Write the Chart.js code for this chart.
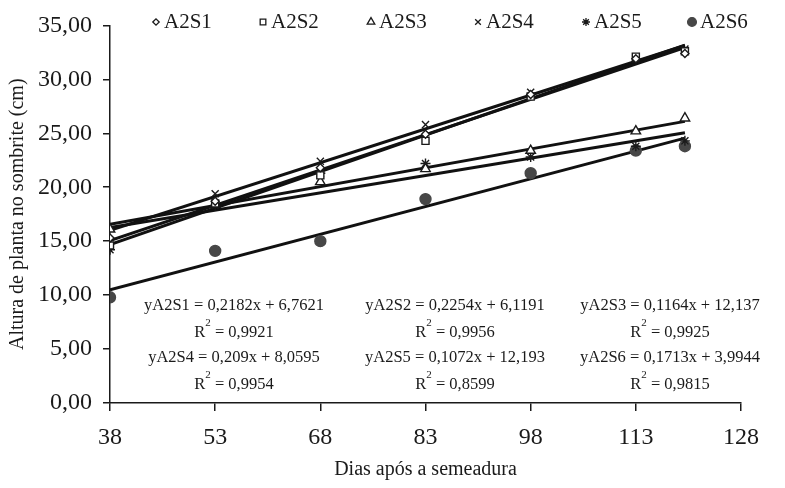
<!DOCTYPE html>
<html>
<head>
<meta charset="utf-8">
<script src="https://cdn.jsdelivr.net/npm/chart.js@4.4.1/dist/chart.umd.min.js"></script>
<style>
  body { margin: 0; background: #fff; }
  #wrap { width: 785px; height: 488px; }
</style>
</head>
<body>
<div id="wrap"><canvas id="alturaChart"></canvas></div>
<script>
// dias apos a semeadura
var dias = [38, 53, 68, 83, 98, 113, 120];
var xTicks = [38, 53, 68, 83, 98, 113, 128];
var yTicks = [0, 5, 10, 15, 20, 25, 30, 35];

// altura de planta (cm)
var a2s1 = [15.3, 18.7, 21.8, 24.9, 28.6, 31.9, 32.4];
var a2s2 = [14.6, 18.5, 21.1, 24.3, 28.4, 32.1, 32.6];
var a2s3 = [16.1, 18.4, 20.5, 21.7, 23.4, 25.2, 26.4];
var a2s4 = [15.0, 19.4, 22.4, 25.8, 28.8, 31.9, 32.8];
var a2s5 = [14.2, 18.3, 21.3, 22.2, 22.8, 23.8, 24.3];
var a2s6 = [9.8, 14.1, 15.0, 18.9, 21.3, 23.4, 23.8];

var nomes = ['A2S1', 'A2S2', 'A2S3', 'A2S4', 'A2S5', 'A2S6'];
var series = [a2s1, a2s2, a2s3, a2s4, a2s5, a2s6];

// linhas de tendencia (equacoes do grafico)
var slopes = [0.2182, 0.2254, 0.1164, 0.209, 0.1072, 0.1713];
var intercepts = [6.7621, 6.1191, 12.137, 8.0595, 12.193, 3.9944];
var eqTexts = ['0,2182x + 6,7621', '0,2254x + 6,1191', '0,1164x + 12,137',
               '0,209x + 8,0595', '0,1072x + 12,193', '0,1713x + 3,9944'];
var r2Texts = ['0,9921', '0,9956', '0,9925', '0,9954', '0,8599', '0,9815'];

var serif = "'Liberation Serif', 'Times New Roman', serif";
var ink = '#1a1a1a';

var estilos = [
    { pointStyle: 'rectRot', radius: 4, bg: '#fff', border: ink },
    { pointStyle: 'rect', radius: 5, bg: '#fff', border: ink },
    { pointStyle: 'triangle', radius: 5.5, bg: '#fff', border: ink },
    { pointStyle: 'crossRot', radius: 5, bg: ink, border: ink },
    { pointStyle: 'star', radius: 5, bg: ink, border: ink },
    { pointStyle: 'circle', radius: 5.5, bg: '#474747', border: '#474747' }
];

var datasets = [];
series.forEach(function (vals, i) {
    datasets.push({
        label: nomes[i],
        data: dias.map(function (d, j) { return { x: d, y: vals[j] }; }),
        showLine: false,
        pointStyle: estilos[i].pointStyle,
        pointRadius: estilos[i].radius,
        pointBackgroundColor: estilos[i].bg,
        pointBorderColor: estilos[i].border,
        pointBorderWidth: 1.4,
        order: 0
    });
});
slopes.forEach(function (a, i) {
    var x0 = dias[0], x1 = dias[dias.length - 1];
    datasets.push({
        type: 'line',
        label: 'tendencia ' + nomes[i],
        data: [{ x: x0, y: a * x0 + intercepts[i] }, { x: x1, y: a * x1 + intercepts[i] }],
        borderColor: '#111',
        borderWidth: 3,
        pointRadius: 0,
        fill: false,
        order: 1
    });
});

// legenda e equacoes desenhadas por cima
var textosPlugin = {
    id: 'textos',
    afterDraw: function (chart) {
        var ctx = chart.ctx;
        ctx.save();
        // legenda
        var lx = [156, 263, 371, 478, 586, 692];
        var drawPoint = Chart.helpers && Chart.helpers.drawPoint;
        ctx.font = '21px ' + serif;
        ctx.textBaseline = 'middle';
        ctx.textAlign = 'left';
        nomes.forEach(function (n, i) {
            var e = estilos[i];
            ctx.fillStyle = e.bg;
            ctx.strokeStyle = e.border;
            ctx.lineWidth = 1.3;
            if (drawPoint) {
                drawPoint(ctx, { pointStyle: e.pointStyle, radius: e.radius * 0.8, rotation: 0, borderWidth: 1.3 }, lx[i], 22);
            }
            ctx.fillStyle = ink;
            ctx.fillText(n, lx[i] + 8, 22);
        });
        // equacoes
        var cols = [234, 455, 670];
        var rows = [306, 358];
        var fs = 16.5;
        for (var i = 0; i < 6; i++) {
            var cx = cols[i % 3], cy = rows[Math.floor(i / 3)];
            ctx.font = fs + 'px ' + serif;
            ctx.fillStyle = ink;
            ctx.textAlign = 'center';
            ctx.fillText('y' + nomes[i] + ' = ' + eqTexts[i], cx, cy);
            // R^2
            var resto = ' = ' + r2Texts[i];
            var wR = ctx.measureText('R').width;
            var wResto = ctx.measureText(resto).width;
            ctx.font = '11px ' + serif;
            var w2 = ctx.measureText('2').width;
            var total = wR + w2 + wResto;
            var sx = cx - total / 2;
            var ry = cy + 27;
            ctx.textAlign = 'left';
            ctx.font = fs + 'px ' + serif;
            ctx.fillText('R', sx, ry);
            ctx.font = '11px ' + serif;
            ctx.fillText('2', sx + wR, ry - 10);
            ctx.font = fs + 'px ' + serif;
            ctx.fillText(resto, sx + wR + w2, ry);
        }
        ctx.restore();
    }
};

var ctx = document.getElementById('alturaChart').getContext('2d');
var chart = new Chart(ctx, {
    type: 'scatter',
    data: { datasets: datasets },
    options: {
        responsive: true,
        maintainAspectRatio: false,
        animation: false,
        layout: { padding: { top: 24, right: 44, left: 0, bottom: 0 } },
        plugins: {
            legend: { display: false },
            tooltip: { enabled: false }
        },
        scales: {
            x: {
                type: 'linear',
                min: 38,
                max: 128,
                afterBuildTicks: function (s) { s.ticks = xTicks.map(function (v) { return { value: v }; }); },
                afterFit: function (s) { s.height = 85; },
                grid: { display: true, drawOnChartArea: false, drawTicks: true, tickLength: 8, color: ink, lineWidth: 1.5 },
                border: { display: true, color: ink, width: 1.5 },
                ticks: { color: ink, font: { family: serif, size: 24 }, padding: 12, maxRotation: 0 },
                title: { display: true, text: 'Dias após a semeadura', color: ink, font: { family: serif, size: 20 }, padding: { top: 0, bottom: 6 } }
            },
            y: {
                min: 0,
                max: 35,
                afterBuildTicks: function (s) { s.ticks = yTicks.map(function (v) { return { value: v }; }); },
                afterFit: function (s) { s.width = 110; },
                grid: { display: true, drawOnChartArea: false, drawTicks: true, tickLength: 7, color: ink, lineWidth: 1.5 },
                border: { display: true, color: ink, width: 1.5 },
                ticks: {
                    color: ink, font: { family: serif, size: 24 }, padding: 11,
                    callback: function (v) { return v.toFixed(2).replace('.', ','); }
                },
                title: { display: true, text: 'Altura de planta no sombrite (cm)', color: ink, font: { family: serif, size: 20 }, padding: { top: 6, bottom: 0 } }
            }
        }
    },
    plugins: [textosPlugin]
});
</script>
</body>
</html>
